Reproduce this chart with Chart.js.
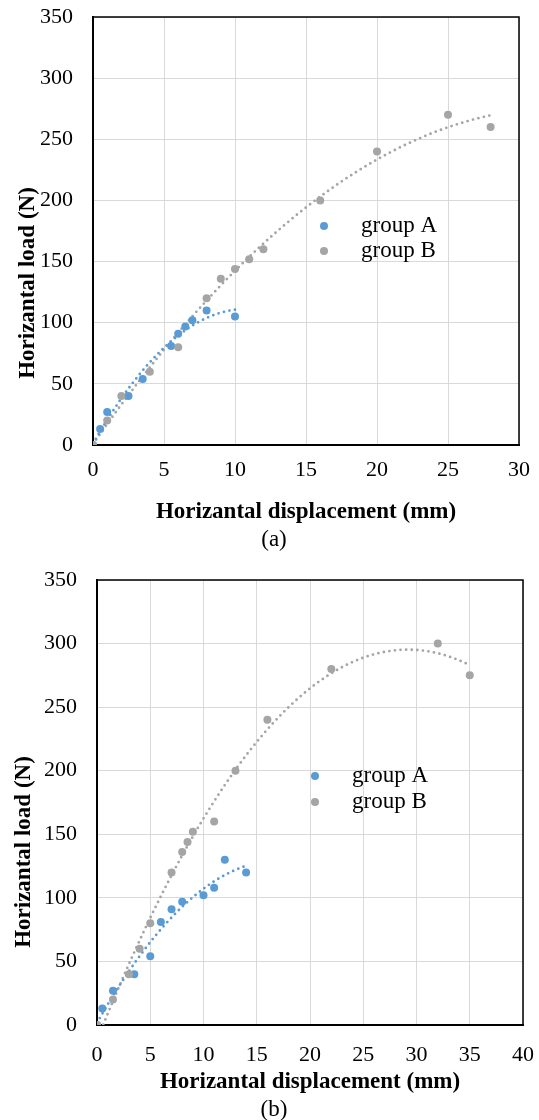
<!DOCTYPE html>
<html>
<head>
<meta charset="utf-8">
<script src="https://cdn.jsdelivr.net/npm/chart.js@4.4.1/dist/chart.umd.min.js"></script>
<style>
  body { margin: 0; background: #fff; }
  #wrap { position: relative; width: 539px; height: 1120px; overflow: hidden; }
  canvas { position: absolute; left: 0; }
  .cap { position: absolute; width: 100px; text-align: center; font: 23px 'Liberation Serif', 'Times New Roman', serif; color: #000; }
</style>
</head>
<body>
<div id="wrap">
  <canvas id="chartA" width="539" height="560" style="top:0"></canvas>
  <canvas id="chartB" width="539" height="560" style="top:560px"></canvas>
  <div class="cap" style="left:224px; top:526px">(a)</div>
  <div class="cap" style="left:224px; top:1096px">(b)</div>
</div>
<script>
// (a) test data
const dispA1 = [0, 0.5, 1, 2.5, 3.5, 5.5, 6, 6.5, 7, 8, 10];
const loadA1 = [0, 13, 27, 40, 54, 81, 91, 97, 102, 110, 105];
const dispB1 = [0, 1, 2, 4, 6, 8, 9, 10, 11, 12, 16, 20, 25, 28];
const loadB1 = [0, 20, 40, 60, 80, 120, 136, 144, 152, 160, 200, 240, 270, 260];

// (b) test data
const dispA2 = [0, 0.5, 1.5, 3.5, 5, 6, 7, 8, 10, 11, 12, 14];
const loadA2 = [0, 13, 27, 40, 54, 81, 91, 97, 102, 108, 130, 120];
const dispB2 = [0, 1.5, 3, 4, 5, 7, 8, 8.5, 9, 11, 13, 16, 22, 32, 35];
const loadB2 = [0, 20, 40, 60, 80, 120, 136, 144, 152, 160, 200, 240, 280, 300, 275];

// axis ticks
const loadTicks = [0, 50, 100, 150, 200, 250, 300, 350];
const dispTicksA = [0, 5, 10, 15, 20, 25, 30];
const dispTicksB = [0, 5, 10, 15, 20, 25, 30, 35, 40];

const seriesNames = ['group A', 'group B'];
const blue = '#5b9bd5';
const grey = '#a5a5a5';
const FONT = "'Liberation Serif', 'Times New Roman', serif";

Chart.defaults.font.family = FONT;
Chart.defaults.font.size = 22;
Chart.defaults.color = '#000';

// 2nd order polynomial trendline (least squares), like Excel
function quadFit(xs, ys) {
  let s = [0, 0, 0, 0, 0], t = [0, 0, 0];
  xs.forEach((x, i) => {
    for (let k = 0; k < 5; k++) s[k] += Math.pow(x, k);
    for (let k = 0; k < 3; k++) t[k] += ys[i] * Math.pow(x, k);
  });
  const m = [[s[0], s[1], s[2], t[0]], [s[1], s[2], s[3], t[1]], [s[2], s[3], s[4], t[2]]];
  for (let i = 0; i < 3; i++) {
    for (let j = i + 1; j < 3; j++) {
      const f = m[j][i] / m[i][i];
      for (let k = i; k < 4; k++) m[j][k] -= f * m[i][k];
    }
  }
  const c = [0, 0, 0];
  for (let i = 2; i >= 0; i--) {
    let v = m[i][3];
    for (let k = i + 1; k < 3; k++) v -= m[i][k] * c[k];
    c[i] = v / m[i][i];
  }
  return c;
}

function trend(xs, ys) {
  const c = quadFit(xs, ys);
  const lo = Math.min(...xs), hi = Math.max(...xs);
  const pts = [];
  for (let i = 0; i <= 80; i++) {
    const x = lo + (hi - lo) * i / 80;
    pts.push({ x: x, y: c[0] + c[1] * x + c[2] * x * x });
  }
  return pts;
}

function toPts(xs, ys) { return xs.map((x, i) => ({ x: x, y: ys[i] })); }

// box, rotated y title and inside legend
const decor = {
  id: 'decor',
  beforeDatasetsDraw(chart) {
    const a = chart.chartArea, ctx = chart.ctx;
    ctx.save();
    ctx.strokeStyle = '#000';
    ctx.lineWidth = 1.5;
    ctx.strokeRect(a.left, a.top, a.right - a.left, a.bottom - a.top);
    ctx.restore();
  },
  afterDraw(chart, args, o) {
    const ctx = chart.ctx;
    ctx.save();
    ctx.fillStyle = '#000';
    ctx.font = 'bold 23px ' + FONT;
    ctx.textAlign = 'center';
    ctx.textBaseline = 'middle';
    ctx.translate(o.titleX, o.titleY);
    ctx.rotate(-Math.PI / 2);
    ctx.fillText('Horizantal load (N)', 0, 0);
    ctx.restore();

    ctx.save();
    ctx.font = '23px ' + FONT;
    ctx.textBaseline = 'middle';
    [blue, grey].forEach((col, i) => {
      const y = o.legY + i * o.legGap;
      ctx.fillStyle = col;
      ctx.beginPath();
      ctx.arc(o.legX, y, 4, 0, Math.PI * 2);
      ctx.fill();
      ctx.fillStyle = '#000';
      ctx.fillText(seriesNames[i], o.legX + 37, y);
    });
    ctx.restore();
  }
};

function makeChart(id, xa, ya, xb, yb, xTicks, cfg) {
  const ctx = document.getElementById(id).getContext('2d');
  const dotted = { showLine: true, pointRadius: 0, borderWidth: 2.8, borderDash: [0, 5.6], borderCapStyle: 'round', fill: false, order: 10 };
  return new Chart(ctx, {
    type: 'scatter',
    data: {
      datasets: [
        Object.assign({ data: trend(xa, ya), borderColor: blue }, dotted),
        Object.assign({ data: trend(xb, yb), borderColor: grey }, dotted),
        { label: seriesNames[0], data: toPts(xa, ya), backgroundColor: blue, pointRadius: 4, borderWidth: 0, order: 2 },
        { label: seriesNames[1], data: toPts(xb, yb), backgroundColor: grey, pointRadius: 4, borderWidth: 0, order: 1 }
      ]
    },
    options: {
      responsive: false,
      animation: false,
      layout: { padding: cfg.pad },
      plugins: {
        legend: { display: false },
        tooltip: { enabled: false },
        decor: cfg.decor
      },
      scales: {
        x: {
          type: 'linear',
          min: xTicks[0],
          max: xTicks[xTicks.length - 1],
          ticks: { stepSize: xTicks[1] - xTicks[0], padding: cfg.xTickPad, maxRotation: 0, font: { size: 22 } },
          grid: { color: '#d9d9d9', lineWidth: 1, drawTicks: false },
          border: { color: '#000', width: 2 },
          title: { display: true, text: 'Horizantal displacement (mm)', font: { size: 23, weight: 'bold' }, padding: cfg.xTitlePad },
          afterFit: s => { s.height = 90; s.paddingLeft = 0; s.paddingRight = 0; }
        },
        y: {
          min: loadTicks[0],
          max: loadTicks[loadTicks.length - 1],
          ticks: { stepSize: loadTicks[1] - loadTicks[0], padding: 20, font: { size: 22 } },
          grid: { color: '#d9d9d9', lineWidth: 1, drawTicks: false },
          border: { color: '#000', width: 2 },
          afterFit: s => { s.width = cfg.yWidth; s.paddingTop = 0; s.paddingBottom = 0; }
        }
      }
    },
    plugins: [decor]
  });
}

makeChart('chartA', dispA1, loadA1, dispB1, loadB1, dispTicksA, {
  pad: { top: 17, right: 20, left: 0, bottom: 25 },
  yWidth: 93,
  xTickPad: 12,
  xTitlePad: { top: 0, bottom: 9 },
  decor: { titleX: 28, titleY: 283, legX: 324, legY: 226, legGap: 25 }
});

makeChart('chartB', dispA2, loadA2, dispB2, loadB2, dispTicksB, {
  pad: { top: 20, right: 16, left: 0, bottom: 5 },
  yWidth: 97,
  xTickPad: 17,
  xTitlePad: { top: 0, bottom: 19 },
  decor: { titleX: 24, titleY: 292, legX: 315, legY: 216, legGap: 26 }
});
</script>
</body>
</html>
